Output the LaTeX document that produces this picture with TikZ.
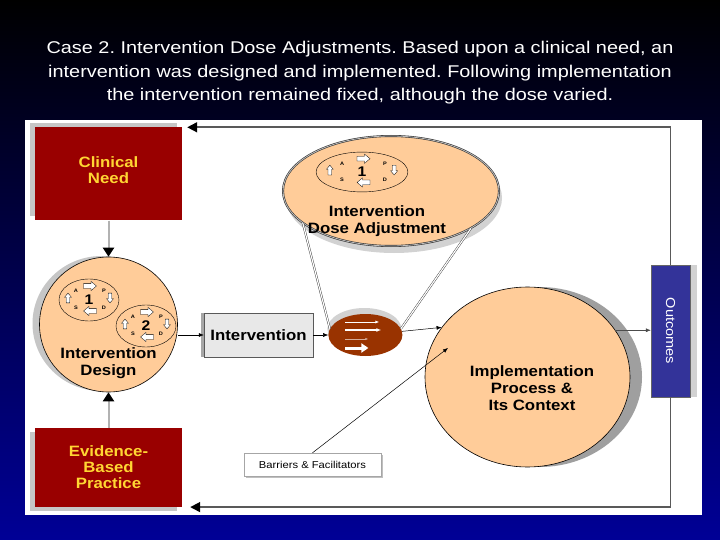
\documentclass[tikz,border=0pt]{standalone}
\usepackage{fontspec}
\setmainfont{Liberation Sans}[FakeStretch=1.12]
\newfontfamily\titlefont{Liberation Sans}[FakeStretch=1.17]
\usepackage{tikz}
\usetikzlibrary{arrows.meta,positioning,shapes.geometric,shadows}
\definecolor{cnred}{RGB}{153,0,0}
\definecolor{cnyellow}{RGB}{255,214,51}
\definecolor{cnpeach}{RGB}{255,204,153}
\definecolor{cnbrown}{RGB}{153,51,0}
\definecolor{cnblue}{RGB}{51,51,153}
\definecolor{cnnavy}{RGB}{0,0,150}
\frenchspacing
\tikzset{
  pics/barrow/.style={code={
    \draw[black, fill=white, line width=0.3pt] (-6.5,-2.4) -- (1,-2.4) -- (1,-4.6) -- (6.5,0) -- (1,4.6) -- (1,2.4) -- (-6.5,2.4) -- cycle;
  }},
  pics/pdsa/.style={code={
    \draw[line width=0.4pt] (0,0) ellipse [x radius=30, y radius=21];
    \node[font=\bfseries\fontsize{14}{14}\selectfont, inner sep=0pt] (-num) at (0,0) {#1};
    \node[font=\bfseries\fontsize{5}{5}\selectfont, inner sep=0pt] (-a) at (-13,-9) {A};
    \node[font=\bfseries\fontsize{5}{5}\selectfont, inner sep=0pt] (-p) at (15,-9) {P};
    \node[font=\bfseries\fontsize{5}{5}\selectfont, inner sep=0pt] (-s) at (-13,8) {S};
    \node[font=\bfseries\fontsize{5}{5}\selectfont, inner sep=0pt] (-d) at (15,8) {D};
    \pic at (1,-14) {barrow};
    \pic[rotate=-90, scale=0.75] at (21,-2) {barrow};
    \pic[rotate=180] at (1,11) {barrow};
    \pic[rotate=90, scale=0.75] at (-21,-2) {barrow};
  }}
}

\begin{document}
\begin{tikzpicture}[x=1pt, y=-1pt,
  title/.style={text=white, align=center, font=\titlefont\fontsize{17}{23.5}\selectfont},
  redbox/.style={fill=cnred, text=cnyellow, font=\bfseries\fontsize{15}{16}\selectfont, align=center, minimum width=147pt, inner sep=0pt, general shadow={fill=gray!45, shadow xshift=-5pt, shadow yshift=#1}},
  peach/.style={ellipse, draw=black, line width=0.6pt, fill=cnpeach, inner sep=0pt},
  lbl/.style={font=\bfseries\fontsize{15}{17}\selectfont, align=center, inner sep=0pt},
  greybox/.style={draw=gray!70!black, fill=gray!18, minimum width=109pt, minimum height=44pt, inner sep=0pt, font=\bfseries\fontsize{15}{16}\selectfont, general shadow={fill=gray!70, shadow xshift=-3pt}},
  flow/.style={-{Latex[length=5pt, width=4pt]}, line width=0.5pt},
  bigarrow/.style={-{Triangle[black, length=9pt, width=11pt]}, line width=2pt, draw=gray!60},
  loopline/.style={-{Triangle[black, length=10pt, width=10pt]}, line width=1.6pt, draw=black!65},
  zoomline/.style={draw=black!80, line width=0.4pt, double=white, double distance=1.2pt}
]
  \shade[top color=black, bottom color=cnnavy] (0,0) rectangle (720,540);
  \fill[white] (25,120) rectangle (702,515);

  \node[title] (title) at (360,73) {Case 2. Intervention Dose Adjustments. Based upon a clinical need, an\\ intervention was designed and implemented. Following implementation\\ the intervention remained fixed, although the dose varied.};

  \node[redbox=4pt, minimum height=93pt, text depth=8pt] (need) at (108.5,174) {Clinical\\ Need};
  \node[redbox=-4pt, minimum height=79pt, below=207pt of need] (ebp) {Evidence-\\ Based\\ Practice};
  \node[peach, minimum width=138pt, minimum height=135pt, below=36pt of need, general shadow={fill=gray!45, shadow xshift=-7pt, shadow yshift=1pt}] (design) {};
  \node[lbl] (designlbl) at ([yshift=-39pt]design.center) {Intervention\\ Design};
  \pic (pa) at (89,300) {pdsa=1};
  \pic (pb) at (146,326) {pdsa=2};

  \node[greybox] (interv) at (258.5,335) {Intervention};
  \node[ellipse, fill=cnbrown, minimum width=74pt, minimum height=42pt, inner sep=0pt, right=15pt of interv, general shadow={fill=gray!35, shadow xshift=-1pt, shadow yshift=6pt}] (dosage) {};
  \draw[white, line width=1pt, -{Latex[length=4pt]}] ([shift={(-20,-13)}]dosage.center) -- ++(34,0);
  \draw[white, line width=1.5pt, -{Latex[length=5pt]}] ([shift={(-20,-5)}]dosage.center) -- ++(36,0);
  \draw[white!60!cnbrown, line width=0.7pt, -{Latex[length=3pt]}] ([shift={(-20,4)}]dosage.center) -- ++(23,0);
  \draw[white, line width=3pt, -{Triangle[length=7pt, width=9pt]}] ([shift={(-20,13)}]dosage.center) -- ++(23,0);

  \node[peach, minimum width=216pt, minimum height=110pt, draw=black!80, double=gray!50, double distance=0.8pt, general shadow={fill=gray!35, shadow xshift=3pt, shadow yshift=-7pt}] (dose) at (391,191) {};
  \node[lbl] (doselbl) at (377,221.5) {Intervention\\ Dose Adjustment};
  \pic[xscale=1.53, yscale=0.95] (pc) at (362,172) {pdsa=1};

  \node[peach, minimum width=205pt, minimum height=180pt, general shadow={fill=gray!75, shadow xshift=12pt, shadow yshift=0pt}] (impl) at (527.5,377) {};
  \node[lbl] (impllbl) at (532,388) {Implementation\\ Process \&\\ Its Context};

  \node[draw=gray!70, fill=white, minimum width=137pt, minimum height=23pt, inner sep=0pt, font=\fontsize{10}{11}\selectfont, general shadow={fill=gray!50, shadow xshift=2pt, shadow yshift=-1.5pt}] (barr) at (312.5,464.5) {Barriers \& Facilitators};

  \node[fill=cnblue, draw=black!60, minimum width=39pt, minimum height=132pt, general shadow={fill=gray!35, shadow xshift=7pt}] (outc) at (670.5,331) {};
  \node[rotate=-90, text=white, font=\fontsize{13}{14}\selectfont] (outclbl) at (outc.center) {Outcomes};

  \draw[zoomline] (dose.200) -- (dosage.170);
  \draw[zoomline] (dose.335) -- (dosage.10);

  \draw[bigarrow] (need.south) -- (need.south |- design.north);
  \draw[bigarrow] (ebp.north) -- (ebp.north |- design.south);
  \draw[flow] (design.east |- interv.west) -- (interv.west);
  \draw[flow] (interv) -- (dosage);
  \draw[flow] (dosage) -- (impl.150);
  \draw[flow, draw=gray!60!black] (impl.28) -- (outc.west |- impl.28);
  \draw[flow] (barr.north) -- ([shift={(-79.5,-29)}]impl.center);
  \draw[loopline] (outc.north) |- ([xshift=5pt]need.north east);
  \draw[loopline] (outc.south) |- ([xshift=8pt]ebp.south east);
\end{tikzpicture}
\end{document}
